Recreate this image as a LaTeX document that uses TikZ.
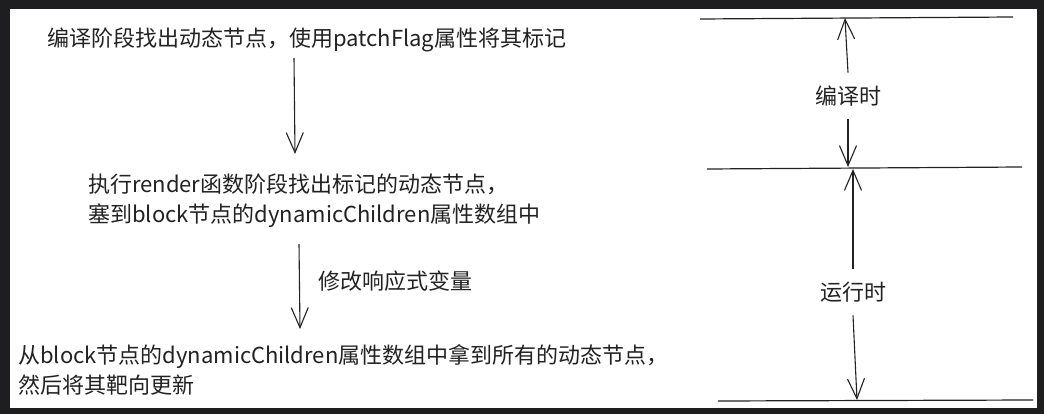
\documentclass[tikz,border=0pt]{standalone}
\usepackage{fontspec}
\setmainfont{Noto Sans CJK SC}
\usetikzlibrary{arrows.meta}
\definecolor{framebg}{HTML}{1E1E20}
\definecolor{inkgray}{HTML}{222222}

\begin{document}
\begin{tikzpicture}[
  x=1pt, y=-1pt,
  font=\fontsize{22}{30}\selectfont,
  txt/.style={anchor=west, align=left, inner sep=0pt, text=inkgray},
  tag/.style={inner xsep=0pt, inner ysep=13pt, text=inkgray},
  rule/.style={draw=inkgray, line width=1.2pt},
  arr/.style={-{Straight Barb[length=20pt,width=17pt]}, draw=inkgray, line width=1.1pt}
]
  \useasboundingbox[fill=framebg] (0,0) rectangle (1044,414);
  \fill[white] (10,9) rectangle (1037,408);

  % left: the three steps
  \node[txt] (s1) at (47,40) {编译阶段找出动态节点，使用patchFlag属性将其标记};
  \node[txt] (s2) at (88,201) {执行render函数阶段找出标记的动态节点，\\塞到block节点的dynamicChildren属性数组中};
  \node[txt] (s3) at (18,370) {从block节点的dynamicChildren属性数组中拿到所有的动态节点，\\然后将其靶向更新};
  \node[txt] (chg) at (318,281) {修改响应式变量};
  \coordinate (a1) at (294,58);
  \coordinate (b1) at (295,154);
  \coordinate (a2) at (299,244);
  \coordinate (b2) at (300,329);
  \draw[arr] (a1) -- (b1);
  \draw[arr] (a2) -- (b2);

  % right: time line
  \coordinate (r1w) at (700,19);  \coordinate (r1e) at (1013,17);
  \coordinate (r2w) at (707,169); \coordinate (r2e) at (1022,167);
  \coordinate (r3w) at (718,401); \coordinate (r3e) at (1033,400);
  \draw[rule] (r1w) -- (r1e);
  \draw[rule] (r2w) -- (r2e);
  \draw[rule] (r3w) -- (r3e);
  \coordinate (u1) at (845,18);
  \coordinate (d1) at (848,167);
  \coordinate (u2) at (853,169);
  \coordinate (d2) at (857,400);
  \node[tag] (ct) at (848,96) {编译时};
  \node[tag] (rt) at (853,292) {运行时};
  \draw[arr] (ct.north) -- (u1);
  \draw[arr] (ct.south) -- (d1);
  \draw[arr] (rt.north) -- (u2);
  \draw[arr] (rt.south) -- (d2);
\end{tikzpicture}
\end{document}
